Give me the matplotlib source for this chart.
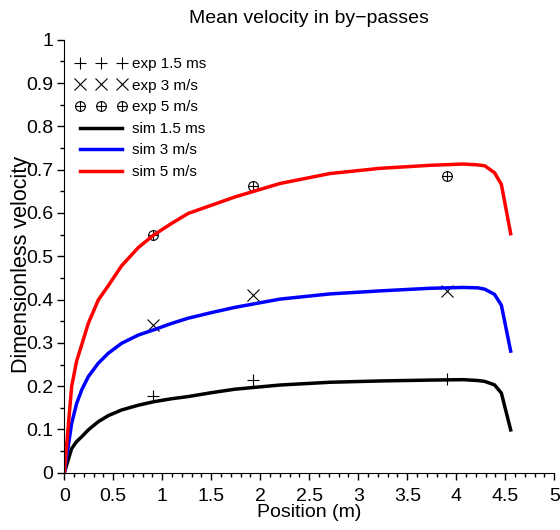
import matplotlib
matplotlib.use("Agg")
import matplotlib.pyplot as plt
from matplotlib.ticker import MultipleLocator
from matplotlib.path import Path
import numpy as np

plt.rcParams['font.family'] = ['Liberation Sans', 'DejaVu Sans']

# simulation curves (position in m, dimensionless velocity)
sim_x = [0, 0.075, 0.126, 0.177, 0.245, 0.347, 0.449, 0.585, 0.755, 0.912, 1.096,
         1.265, 1.504, 1.742, 2.2, 2.71, 3.22, 3.73, 4.07, 4.22, 4.29, 4.39, 4.46, 4.555]
sim_15 = [0, 0.056, 0.072, 0.083, 0.099, 0.118, 0.132, 0.145, 0.156, 0.164, 0.171,
          0.176, 0.185, 0.193, 0.2026, 0.209, 0.212, 0.214, 0.215, 0.213, 0.211,
          0.203, 0.184, 0.099]
sim_3 = [0, 0.114, 0.16, 0.191, 0.222, 0.253, 0.276, 0.299, 0.318, 0.33, 0.345,
         0.357, 0.37, 0.382, 0.401, 0.413, 0.42, 0.426, 0.428, 0.427, 0.424,
         0.412, 0.387, 0.281]
sim_5 = [0, 0.199, 0.258, 0.295, 0.345, 0.399, 0.432, 0.478, 0.52, 0.549, 0.576,
         0.599, 0.618, 0.637, 0.668, 0.691, 0.703, 0.71, 0.713, 0.711, 0.709,
         0.693, 0.666, 0.552]

# experimental points
exp_x = [0.91, 1.93, 3.91]
exp_15 = [0.177, 0.214, 0.217]
exp_3 = [0.341, 0.41, 0.42]
exp_5 = [0.549, 0.662, 0.685]

# circle with a cross inside
oplus = Path.make_compound_path(
    Path.unit_circle(),
    Path([[-1, 0], [1, 0]], [Path.MOVETO, Path.LINETO]),
    Path([[0, -1], [0, 1]], [Path.MOVETO, Path.LINETO]),
)

fig = plt.figure(figsize=(5.6, 5.3), dpi=100)
ax = fig.add_axes([0.1148, 0.108, 0.875, 0.817])

ax.plot(exp_x, exp_15, linestyle='none', marker='+', color='black', ms=8, mew=0.8,
        label='exp 1.5 ms')
ax.plot(exp_x, exp_3, linestyle='none', marker='x', color='black', ms=8, mew=0.8,
        label='exp 3 m/s')
ax.plot(exp_x, exp_5, linestyle='none', marker=oplus, color='black', mfc='none',
        ms=7, mew=0.8, label='exp 5 m/s')
ax.plot(sim_x, sim_15, color='black', lw=2.5, solid_joinstyle='round', label='sim 1.5 ms')
ax.plot(sim_x, sim_3, color='blue', lw=2.5, solid_joinstyle='round', label='sim 3 m/s')
ax.plot(sim_x, sim_5, color='red', lw=2.5, solid_joinstyle='round', label='sim 5 m/s')

ax.set_xlim(0, 5)
ax.set_ylim(0, 1)
ax.xaxis.set_minor_locator(MultipleLocator(0.1))
ax.yaxis.set_minor_locator(MultipleLocator(0.05))
ax.set_xticks(np.arange(0, 5.01, 0.5))
ax.set_xticklabels(['0', '0.5', '1', '1.5', '2', '2.5', '3', '3.5', '4', '4.5', '5'])
ax.set_yticks(np.arange(0, 1.01, 0.1))
ax.set_yticklabels(['0', '0.1', '0.2', '0.3', '0.4', '0.5', '0.6', '0.7', '0.8', '0.9', '1'])
ax.tick_params(which='major', length=5, width=1, labelsize=14, pad=3)
ax.tick_params(which='minor', length=3, width=1)
ax.tick_params(axis='x', which='major', pad=6)
for s in ['top', 'right']:
    ax.spines[s].set_visible(False)

ax.set_title('Mean velocity in by\u2212passes', fontsize=14, pad=12)
ax.set_xlabel('Position (m)', fontsize=14, labelpad=-1)
ax.set_ylabel('Dimensionless velocity', fontsize=15.5)
ax.yaxis.set_label_coords(-0.065, 0.48)

ax.legend(loc='upper left', bbox_to_anchor=(0.0, 0.985), frameon=False, numpoints=3,
          fontsize=11, handlelength=3.4, handletextpad=0.3, labelspacing=0.5,
          borderaxespad=0.3)

fig.savefig('out.png', dpi=100)
